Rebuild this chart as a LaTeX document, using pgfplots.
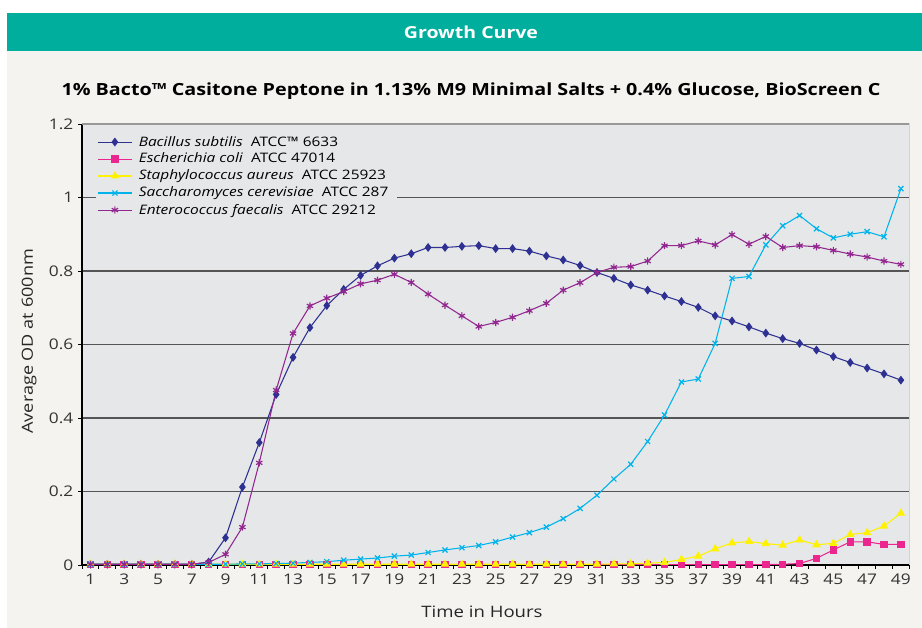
\documentclass[border=0pt]{standalone}
\usepackage{pgfplots}
\pgfplotsset{compat=1.18}
\usepackage{fontspec}
\setmainfont{Open Sans}[FakeStretch=1.18]
\definecolor{teal1}{HTML}{00AE9D}
\definecolor{beige}{HTML}{F4F3EF}
\definecolor{plotbg}{HTML}{E6E7E9}
\definecolor{gridc}{HTML}{555555}
\definecolor{framec}{HTML}{999999}
\definecolor{navy}{HTML}{2E3192}
\definecolor{magenta1}{HTML}{EC268F}
\definecolor{yellow1}{HTML}{FFF200}
\definecolor{cyan1}{HTML}{00B4EB}
\definecolor{purple1}{HTML}{92278F}
\begin{document}
\begin{tikzpicture}
\useasboundingbox (0,0) rectangle (691.5pt,471pt);
\fill[white] (0,0) rectangle (691.5pt,471pt);
\fill[beige] (5.25pt,0) rectangle (691.5pt,433pt);
\fill[teal1] (5.25pt,433pt) rectangle (691.5pt,461.5pt);
\node[white,font=\bfseries\fontsize{12.4}{15}\selectfont] at (353.25pt,447pt) {Growth Curve};
\node[font=\bfseries\fontsize{12.55}{14}\selectfont] at (353.25pt,402.5pt) {1\% Bacto™ Casitone Peptone in 1.13\% M9 Minimal Salts + 0.4\% Glucose, BioScreen C};
\begin{axis}[
  at={(61.5pt,47.25pt)}, anchor=south west,
  scale only axis, width=620.5pt, height=330.75pt,
  xmin=0.5, xmax=49.5, ymin=0, ymax=1.2,
  axis x line*=bottom, axis y line*=left,
  axis line style={black, line width=0.8pt, -},
  axis background/.style={fill=plotbg},
  xtick={1,3,...,49},
  minor xtick={0.5,1.5,...,49.5},
  major x tick style={draw=none},
  minor tick length=3pt,
  major tick length=3pt,
  tick align=outside,
  tick style={black, line width=0.6pt},
  ytick={0,0.2,...,1.2},
  ymajorgrids,
  major grid style={gridc, line width=0.8pt},
  /pgf/number format/assume math mode=true,
  ticklabel style={font=\fontsize{11}{13}\selectfont, text=black!80},
  legend cell align=left,
  legend style={at={(rel axis cs:0.017,0.985)}, anchor=north west, fill=plotbg, draw=none,
    font=\fontsize{9.8}{12.5}\selectfont, inner xsep=1pt, inner ysep=2pt,
    nodes={inner ysep=1.9pt, inner xsep=5pt}},
  legend image code/.code={\draw[mark repeat=2,mark phase=2] plot coordinates {(0cm,0cm) (0.44cm,0cm) (0.88cm,0cm)};},
  every axis plot/.append style={line width=0.8pt},
]
\addplot[navy, mark=diamond*, mark size=2.7pt, mark options={fill=navy}] coordinates {
(1,0.002)(2,0.002)(3,0.002)(4,0.002)(5,0.002)(6,0.002)(7,0.002)(8,0.008)(9,0.074)(10,0.212)
(11,0.333)(12,0.464)(13,0.565)(14,0.646)(15,0.706)(16,0.750)(17,0.788)(18,0.814)(19,0.835)(20,0.847)
(21,0.864)(22,0.864)(23,0.867)(24,0.869)(25,0.861)(26,0.861)(27,0.854)(28,0.841)(29,0.830)(30,0.815)
(31,0.796)(32,0.780)(33,0.762)(34,0.748)(35,0.732)(36,0.717)(37,0.701)(38,0.678)(39,0.664)(40,0.648)
(41,0.631)(42,0.616)(43,0.603)(44,0.585)(45,0.567)(46,0.551)(47,0.536)(48,0.520)(49,0.503)};
\addlegendentry{\makebox[188pt][l]{\textit{Bacillus subtilis}\ \ ATCC™ 6633}}
\addplot[magenta1, mark=square*, mark size=2.4pt, mark options={fill=magenta1}] coordinates {
(1,0.001)(2,0.001)(3,0.001)(4,0.001)(5,0.001)(6,0.001)(7,0.001)(8,0.001)(9,0.001)(10,0.001)
(11,0.001)(12,0.001)(13,0.001)(14,0.001)(15,0.001)(16,0.001)(17,0.001)(18,0.001)(19,0.001)(20,0.001)
(21,0.001)(22,0.001)(23,0.001)(24,0.001)(25,0.001)(26,0.001)(27,0.001)(28,0.001)(29,0.001)(30,0.001)
(31,0.001)(32,0.001)(33,0.001)(34,0.001)(35,0.001)(36,0.001)(37,0.001)(38,0.001)(39,0.001)(40,0.001)
(41,0.001)(42,0.002)(43,0.004)(44,0.018)(45,0.041)(46,0.063)(47,0.063)(48,0.056)(49,0.056)};
\addlegendentry{\textit{Escherichia coli}\ \ ATCC 47014}
\addplot[yellow1, mark=triangle*, mark size=2.9pt, mark options={fill=yellow1}] coordinates {
(1,0.002)(2,0.002)(3,0.002)(4,0.002)(5,0.002)(6,0.002)(7,0.002)(8,0.002)(9,0.002)(10,0.002)
(11,0.002)(12,0.002)(13,0.002)(14,0.002)(15,0.002)(16,0.002)(17,0.002)(18,0.002)(19,0.002)(20,0.002)
(21,0.002)(22,0.002)(23,0.002)(24,0.002)(25,0.002)(26,0.002)(27,0.002)(28,0.002)(29,0.002)(30,0.002)
(31,0.002)(32,0.003)(33,0.003)(34,0.005)(35,0.007)(36,0.015)(37,0.024)(38,0.044)(39,0.060)(40,0.064)
(41,0.058)(42,0.054)(43,0.068)(44,0.055)(45,0.059)(46,0.083)(47,0.088)(48,0.106)(49,0.141)};
\addlegendentry{\textit{Staphylococcus aureus}\ \ ATCC 25923}
\addplot[cyan1, mark=x, mark size=2.7pt, mark options={line width=0.9pt}] coordinates {
(1,0.002)(2,0.002)(3,0.002)(4,0.002)(5,0.002)(6,0.002)(7,0.002)(8,0.002)(9,0.002)(10,0.003)
(11,0.003)(12,0.004)(13,0.005)(14,0.007)(15,0.009)(16,0.013)(17,0.016)(18,0.019)(19,0.024)(20,0.027)
(21,0.034)(22,0.041)(23,0.047)(24,0.053)(25,0.063)(26,0.076)(27,0.088)(28,0.103)(29,0.126)(30,0.154)
(31,0.190)(32,0.234)(33,0.274)(34,0.336)(35,0.408)(36,0.498)(37,0.506)(38,0.603)(39,0.780)(40,0.785)
(41,0.871)(42,0.923)(43,0.951)(44,0.915)(45,0.890)(46,0.900)(47,0.907)(48,0.893)(49,1.024)};
\addlegendentry{\textit{Saccharomyces cerevisiae}\ \ ATCC 287}
\addplot[purple1, mark=asterisk, mark size=2.7pt, mark options={line width=0.9pt}] coordinates {
(1,0.002)(2,0.002)(3,0.002)(4,0.002)(5,0.002)(6,0.002)(7,0.002)(8,0.007)(9,0.029)(10,0.103)
(11,0.278)(12,0.476)(13,0.630)(14,0.705)(15,0.726)(16,0.744)(17,0.765)(18,0.775)(19,0.791)(20,0.769)
(21,0.737)(22,0.707)(23,0.678)(24,0.649)(25,0.660)(26,0.674)(27,0.692)(28,0.712)(29,0.748)(30,0.768)
(31,0.796)(32,0.810)(33,0.812)(34,0.827)(35,0.869)(36,0.869)(37,0.882)(38,0.871)(39,0.899)(40,0.873)
(41,0.894)(42,0.864)(43,0.869)(44,0.866)(45,0.856)(46,0.846)(47,0.838)(48,0.827)(49,0.818)};
\addlegendentry{\textit{Enterococcus faecalis}\ \ ATCC 29212}
\draw[framec, line width=1.2pt] (rel axis cs:0,1) -- (rel axis cs:1,1) -- (rel axis cs:1,0);
\end{axis}
\node[font=\fontsize{11.8}{15}\selectfont, text=black!85] at (361.5pt,12pt) {Time in Hours};
\node[font=\fontsize{11.5}{15}\selectfont, text=black!85, rotate=90] at (21.9pt,215pt) {Average OD at 600nm};
\end{tikzpicture}
\end{document}
